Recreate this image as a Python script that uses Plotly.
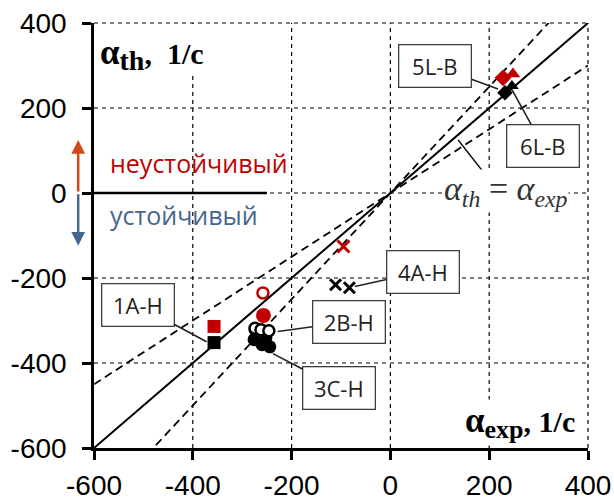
import plotly.graph_objects as go

# ---------------- data ----------------
x_ticks = [-600, -400, -200, 0, 200, 400]
y_ticks = [-600, -400, -200, 0, 200, 400]
tick_text = ["-600", "-400", "-200", "0", "200", "400"]

identity_x = [-600, 400]          # alpha_th = alpha_exp reference line
band_factors = [0.75, 1.25]       # +/-25 % band (dashed)

# 1A-H
a1_red_x, a1_red_y = [-357], [-314]
a1_blk_x, a1_blk_y = [-357], [-352]
# red circles
red_open_x, red_open_y = [-258], [-235]
red_fill_x, red_fill_y = [-257], [-288]
# 2B-H (open black circles)
b2_x = [-274, -262, -246]
b2_y = [-318, -322, -324]
# 3C-H (filled black circles)
c3_x = [-274, -276, -260, -244, -252]
c3_y = [-322, -345, -357, -362, -340]
# 4A-H (crosses)
x4_red_x, x4_red_y = [-95], [-126]
x4_blk_x, x4_blk_y = [-111, -83], [-216, -223]
# 5L-B / 6L-B
l5_x, l5_y = [228, 248], [271, 280]
l6_x, l6_y = [232, 246], [236, 252]

RED = "#C00000"
BLUE = "#44668F"
ORANGE = "#D4481A"

fig = go.Figure()

fig.add_trace(go.Scatter(x=identity_x, y=identity_x, mode="lines",
                         line=dict(color="black", width=2)))
for f in band_factors:
    fig.add_trace(go.Scatter(x=identity_x, y=[f * v for v in identity_x], mode="lines",
                             line=dict(color="black", width=1.8, dash="8px,5px")))

fig.add_trace(go.Scatter(x=a1_red_x, y=a1_red_y, mode="markers",
                         marker=dict(symbol="square", size=13, color=RED)))
fig.add_trace(go.Scatter(x=a1_blk_x, y=a1_blk_y, mode="markers",
                         marker=dict(symbol="square", size=13, color="black")))
fig.add_trace(go.Scatter(x=red_open_x, y=red_open_y, mode="markers",
                         marker=dict(symbol="circle", size=11, color="white",
                                     line=dict(color=RED, width=2.5))))
fig.add_trace(go.Scatter(x=red_fill_x, y=red_fill_y, mode="markers",
                         marker=dict(symbol="circle", size=15, color=RED)))
fig.add_trace(go.Scatter(x=c3_x, y=c3_y, mode="markers",
                         marker=dict(symbol="circle", size=13, color="black")))
fig.add_trace(go.Scatter(x=b2_x, y=b2_y, mode="markers",
                         marker=dict(symbol="circle", size=11, color="white",
                                     line=dict(color="black", width=2.5))))
fig.add_trace(go.Scatter(x=x4_red_x, y=x4_red_y, mode="markers",
                         marker=dict(symbol="x-thin", size=12,
                                     line=dict(color=RED, width=3))))
fig.add_trace(go.Scatter(x=x4_blk_x, y=x4_blk_y, mode="markers",
                         marker=dict(symbol="x-thin", size=11,
                                     line=dict(color="black", width=3))))
fig.add_trace(go.Scatter(x=l5_x, y=l5_y, mode="markers",
                         marker=dict(symbol=["diamond", "triangle-up"], size=13, color=RED)))
fig.add_trace(go.Scatter(x=l6_x, y=l6_y, mode="markers",
                         marker=dict(symbol=["diamond", "triangle-up"], size=12, color="black")))

tickfont = dict(family="Liberation Sans, Arial, sans-serif", size=28, color="black")
axis_common = dict(
    showline=True, linecolor="black", linewidth=2.5,
    ticks="outside", ticklen=9, tickwidth=2.5, tickcolor="black",
    showgrid=False, zeroline=False, tickfont=tickfont, fixedrange=True,
    automargin=False, ticklabeloverflow="allow",
)

x_lo, x_hi = x_ticks[0], x_ticks[-1]
y_lo, y_hi = y_ticks[0], y_ticks[-1]

fig.update_layout(
    width=614, height=499,
    margin=dict(l=94, r=26, t=23, b=51),
    paper_bgcolor="white", plot_bgcolor="white",
    showlegend=False, hovermode=False,
    xaxis=dict(range=[x_lo, x_hi], tickvals=x_ticks, ticktext=tick_text,
               ticklabelstandoff=2, **axis_common),
    yaxis=dict(range=[y_lo, y_hi], tickvals=y_ticks, ticktext=tick_text,
               ticklabelstandoff=10, **axis_common),
)

# dashed grid (paper-referenced so the edge lines are not clipped)
grid_line = dict(color="black", width=1.2, dash="4px,4px")
shapes = []
for v in x_ticks[1:]:
    p = (v - x_lo) / (x_hi - x_lo)
    shapes.append(dict(type="line", xref="paper", yref="paper", x0=p, x1=p,
                       y0=0, y1=1, line=grid_line, layer="below"))
for v in y_ticks[1:]:
    p = (v - y_lo) / (y_hi - y_lo)
    shapes.append(dict(type="line", xref="paper", yref="paper", y0=p, y1=p,
                       x0=0, x1=1, line=grid_line, layer="below"))
shapes += [
    # white area behind y-title
    dict(type="rect", xref="paper", yref="paper", x0=0.008, x1=0.235, y0=0.876, y1=0.994,
         fillcolor="white", line=dict(width=0), layer="between"),
    # thick black line on y = 0 (left part)
    dict(type="line", xref="x", yref="y", x0=-600, x1=-250, y0=0, y1=0,
         line=dict(color="black", width=2.5), layer="above"),
    # leader for the equation label
    dict(type="line", xref="x", yref="y", x0=189, y0=48, x1=137, y1=125,
         line=dict(color="black", width=1.5), layer="above"),
]
fig.update_layout(shapes=shapes)

box_font = dict(family="Open Sans, Noto Sans, sans-serif", size=22, color="#222222")
labels = [
    ("5L-B", 218, 245, -63, -23),
    ("6L-B", 246, 243, 31, 56),
    ("1A-H", -372, -350, -69, -37),
    ("2B-H", -228, -326, 71, -10),
    ("3C-H", -238, -378, 66, 34),
    ("4A-H", -72, -220, 68, -15),
]
for txt, tx, ty, ax, ay in labels:
    fig.add_annotation(x=tx, y=ty, xref="x", yref="y", ax=ax, ay=ay,
                       text=txt, showarrow=True, arrowhead=0, arrowwidth=1.6,
                       arrowcolor="#222222", bgcolor="white", bordercolor="#404040",
                       borderwidth=1.3, borderpad=5, width=61, height=31,
                       font=box_font)

# equation label
fig.add_annotation(x=234, y=5, xref="x", yref="y", showarrow=False,
                   text="<i>α<sub>th</sub></i> = <i>α<sub>exp</sub></i>",
                   font=dict(family="Liberation Serif, Times New Roman, serif", size=34,
                             color="#333333"),
                   bgcolor="white", borderpad=0)

# axis titles
title_font = dict(family="Liberation Serif, Times New Roman, serif", size=30, color="black")
fig.add_annotation(x=0.008, y=0.925, xref="paper", yref="paper", xanchor="left",
                   yanchor="middle", showarrow=False,
                   text="<b><span style='font-size:35px'>α</span><sub><span style='font-size:28px'>th</span></sub>,&nbsp; 1/c</b>",
                   font=title_font)
fig.add_annotation(x=0.978, y=0.06, xref="paper", yref="paper", xanchor="right",
                   yanchor="middle", showarrow=False, bgcolor="white",
                   text="<b><span style='font-size:35px'>α</span><sub><span style='font-size:26px'>exp</span></sub>, 1/c</b>",
                   font=title_font)

# stability labels
fig.add_annotation(x=0.028, y=0.671, xref="paper", yref="paper", xanchor="left",
                   yanchor="middle", showarrow=False, text="неустойчивый",
                   font=dict(family="Open Sans, Noto Sans, sans-serif", size=25, color=RED))
fig.add_annotation(x=0.028, y=0.549, xref="paper", yref="paper", xanchor="left",
                   yanchor="middle", showarrow=False, text="устойчивый",
                   font=dict(family="Open Sans, Noto Sans, sans-serif", size=25, color=BLUE))

# stability arrows
fig.add_annotation(x=-0.032, y=125, xref="paper", yref="y", ax=0, ay=53,
                   text="", showarrow=True, arrowhead=2, arrowsize=1.1, arrowwidth=2.5,
                   arrowcolor=ORANGE)
fig.add_annotation(x=-0.032, y=-124, xref="paper", yref="y", ax=0, ay=-53,
                   text="", showarrow=True, arrowhead=2, arrowsize=1.1, arrowwidth=2.5,
                   arrowcolor=BLUE)

fig.write_html("out.html", config={"displayModeBar": False},
               post_script="document.body.style.margin='0';document.body.style.overflow='hidden';")
